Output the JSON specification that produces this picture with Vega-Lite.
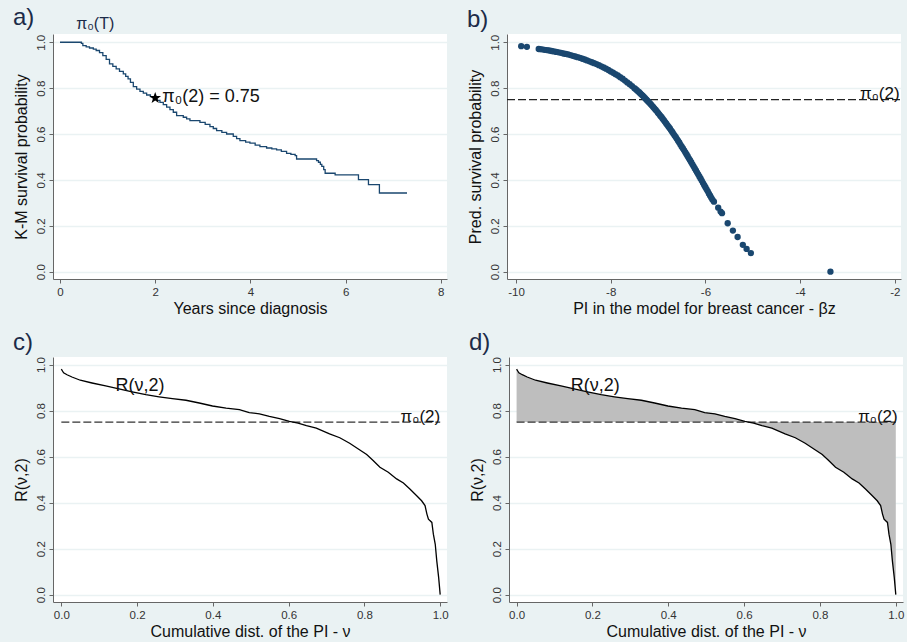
{
  "$schema": "https://vega.github.io/schema/vega-lite/v6.json",
  "background": "#eaf2f3",
  "padding": {"left": 13, "top": 6, "right": 4, "bottom": 2},
  "config": {
    "font": "Liberation Sans",
    "view": {"stroke": null, "fill": "white"},
    "axis": {
      "domainColor": "#666", "domainWidth": 1, "tickColor": "#666", "tickSize": 4,
      "labelColor": "#333", "labelFontSize": 11.5, "labelFont": "Liberation Sans",
      "titleFont": "Liberation Sans", "titleFontSize": 16, "titleFontWeight": "normal", "titleColor": "#111",
      "gridColor": "#eaf2f3", "gridWidth": 1.5
    },
    "axisX": {"grid": false, "labelPadding": 3, "titlePadding": 3},
    "axisY": {"grid": true, "labelAngle": -90, "labelPadding": 3, "titlePadding": 6, "values": [0, 0.2, 0.4, 0.6, 0.8, 1], "format": ".1f"},
    "title": {"anchor": "start", "frame": "bounds", "fontSize": 24, "fontWeight": "normal", "color": "#1c2b48", "font": "Liberation Sans", "offset": 2}
  },
  "spacing": 13,
  "vconcat": [
    {
      "spacing": 20,
      "hconcat": [
        {
          "width": 394, "height": 245,
          "title": {"text": "a)", "offset": -14},
          "layer": [
            {
              "data": {"values": [
                {"x": 0, "y": 1.0}, {"x": 0.45, "y": 0.995}, {"x": 0.48, "y": 0.985}, {"x": 0.55, "y": 0.98}, {"x": 0.62, "y": 0.975},
                {"x": 0.70, "y": 0.97}, {"x": 0.76, "y": 0.964}, {"x": 0.83, "y": 0.955}, {"x": 0.90, "y": 0.942}, {"x": 0.97, "y": 0.925},
                {"x": 1.04, "y": 0.906}, {"x": 1.11, "y": 0.895}, {"x": 1.18, "y": 0.884}, {"x": 1.25, "y": 0.873}, {"x": 1.33, "y": 0.862},
                {"x": 1.38, "y": 0.851}, {"x": 1.43, "y": 0.840}, {"x": 1.48, "y": 0.825}, {"x": 1.54, "y": 0.807}, {"x": 1.61, "y": 0.796},
                {"x": 1.68, "y": 0.786}, {"x": 1.75, "y": 0.778}, {"x": 1.82, "y": 0.770}, {"x": 1.90, "y": 0.763}, {"x": 1.97, "y": 0.756},
                {"x": 2.03, "y": 0.747}, {"x": 2.10, "y": 0.738}, {"x": 2.17, "y": 0.728}, {"x": 2.24, "y": 0.717}, {"x": 2.31, "y": 0.706},
                {"x": 2.38, "y": 0.695}, {"x": 2.45, "y": 0.680}, {"x": 2.59, "y": 0.673}, {"x": 2.66, "y": 0.666}, {"x": 2.73, "y": 0.658},
                {"x": 2.94, "y": 0.651}, {"x": 3.05, "y": 0.642}, {"x": 3.15, "y": 0.632}, {"x": 3.22, "y": 0.624}, {"x": 3.29, "y": 0.615},
                {"x": 3.40, "y": 0.607}, {"x": 3.50, "y": 0.600}, {"x": 3.64, "y": 0.590}, {"x": 3.71, "y": 0.580}, {"x": 3.78, "y": 0.571},
                {"x": 3.90, "y": 0.565}, {"x": 3.99, "y": 0.560}, {"x": 4.10, "y": 0.552}, {"x": 4.20, "y": 0.545}, {"x": 4.34, "y": 0.539},
                {"x": 4.45, "y": 0.535}, {"x": 4.55, "y": 0.531}, {"x": 4.65, "y": 0.524}, {"x": 4.76, "y": 0.516}, {"x": 4.85, "y": 0.511},
                {"x": 4.94, "y": 0.506}, {"x": 4.97, "y": 0.491}, {"x": 5.39, "y": 0.484}, {"x": 5.43, "y": 0.477}, {"x": 5.47, "y": 0.468},
                {"x": 5.50, "y": 0.459}, {"x": 5.54, "y": 0.445}, {"x": 5.57, "y": 0.429}, {"x": 5.78, "y": 0.422}, {"x": 6.27, "y": 0.401},
                {"x": 6.48, "y": 0.379}, {"x": 6.71, "y": 0.343}, {"x": 7.29, "y": 0.343}
              ]},
              "mark": {"type": "line", "interpolate": "step-after", "color": "#1a476f", "strokeWidth": 1.3},
              "encoding": {
                "x": {"field": "x", "type": "quantitative", "scale": {"domain": [-0.147, 8.13], "nice": false, "zero": false},
                      "axis": {"title": "Years since diagnosis", "values": [0, 2, 4, 6, 8], "format": "d"}},
                "y": {"field": "y", "type": "quantitative", "scale": {"domain": [-0.032, 1.036], "nice": false, "zero": false},
                      "axis": {"title": "K-M survival probability"}}
              }
            },
            {
              "data": {"values": [{"x": 2.0, "y": 0.757}]},
              "mark": {"type": "point", "shape": "M0,-1L0.24,-0.33L0.95,-0.31L0.38,0.12L0.59,0.81L0,0.4L-0.59,0.81L-0.38,0.12L-0.95,-0.31L-0.24,-0.33Z", "filled": true, "color": "#000", "size": 150, "opacity": 1},
              "encoding": {"x": {"field": "x", "type": "quantitative"}, "y": {"field": "y", "type": "quantitative"}}
            },
            {
              "data": {"values": [{"x": 2.15, "y": 0.763, "label": "π₀(2) = 0.75"}]},
              "mark": {"type": "text", "align": "left", "baseline": "middle", "fontSize": 18, "color": "#111"},
              "encoding": {"x": {"field": "x", "type": "quantitative"}, "y": {"field": "y", "type": "quantitative"}, "text": {"field": "label"}}
            },
            {
              "data": {"values": [{"x": 0.34, "y": 1.078, "label": "π₀(T)"}]},
              "mark": {"type": "text", "align": "left", "baseline": "middle", "fontSize": 16, "color": "#1c2b48"},
              "encoding": {"x": {"field": "x", "type": "quantitative"}, "y": {"field": "y", "type": "quantitative"}, "text": {"field": "label"}}
            }
          ]
        },
        {
          "width": 394, "height": 245,
          "title": {"text": "b)", "offset": 2},
          "layer": [
            {
              "data": {"values": [{"x": -10.19, "x2": -1.87, "y": 0.75}]},
              "mark": {"type": "rule", "strokeDash": [8, 3], "color": "#222", "strokeWidth": 1.2},
              "encoding": {
                "x": {"field": "x", "type": "quantitative", "scale": {"domain": [-10.19, -1.87], "nice": false, "zero": false},
                      "axis": {"title": "PI in the model for breast cancer - βz", "values": [-10, -8, -6, -4, -2], "labelExpr": "'' + datum.value"}},
                "x2": {"field": "x2"},
                "y": {"field": "y", "type": "quantitative", "scale": {"domain": [-0.032, 1.036], "nice": false, "zero": false},
                      "axis": {"title": "Pred. survival probability"}}
              }
            },
            {
              "data": {"values": [
                {"x": -9.89, "y": 0.983}, {"x": -9.77, "y": 0.980}, {"x": -9.52, "y": 0.971}, {"x": -9.50, "y": 0.970}, {"x": -9.45, "y": 0.969},
                {"x": -9.40, "y": 0.967}, {"x": -9.35, "y": 0.966}, {"x": -9.30, "y": 0.964}, {"x": -9.25, "y": 0.962}, {"x": -9.20, "y": 0.960},
                {"x": -9.15, "y": 0.958}, {"x": -9.10, "y": 0.956}, {"x": -9.05, "y": 0.954}, {"x": -9.00, "y": 0.951}, {"x": -8.95, "y": 0.949},
                {"x": -8.90, "y": 0.947}, {"x": -8.85, "y": 0.944}, {"x": -8.80, "y": 0.941}, {"x": -8.75, "y": 0.938}, {"x": -8.70, "y": 0.935},
                {"x": -8.65, "y": 0.932}, {"x": -8.60, "y": 0.928}, {"x": -8.55, "y": 0.925}, {"x": -8.50, "y": 0.921}, {"x": -8.45, "y": 0.917},
                {"x": -8.40, "y": 0.913}, {"x": -8.35, "y": 0.909}, {"x": -8.30, "y": 0.905}, {"x": -8.25, "y": 0.900}, {"x": -8.20, "y": 0.895},
                {"x": -8.15, "y": 0.890}, {"x": -8.10, "y": 0.885}, {"x": -8.05, "y": 0.879}, {"x": -8.00, "y": 0.873}, {"x": -7.95, "y": 0.867},
                {"x": -7.90, "y": 0.861}, {"x": -7.85, "y": 0.855}, {"x": -7.80, "y": 0.848}, {"x": -7.75, "y": 0.841}, {"x": -7.70, "y": 0.833},
                {"x": -7.65, "y": 0.825}, {"x": -7.60, "y": 0.817}, {"x": -7.55, "y": 0.809}, {"x": -7.50, "y": 0.800}, {"x": -7.45, "y": 0.791},
                {"x": -7.40, "y": 0.782}, {"x": -7.35, "y": 0.772}, {"x": -7.30, "y": 0.762}, {"x": -7.25, "y": 0.751}, {"x": -7.20, "y": 0.740},
                {"x": -7.15, "y": 0.729}, {"x": -7.10, "y": 0.717}, {"x": -7.05, "y": 0.705}, {"x": -7.00, "y": 0.692}, {"x": -6.95, "y": 0.679},
                {"x": -6.90, "y": 0.666}, {"x": -6.85, "y": 0.652}, {"x": -6.80, "y": 0.638}, {"x": -6.75, "y": 0.624}, {"x": -6.70, "y": 0.609},
                {"x": -6.65, "y": 0.593}, {"x": -6.60, "y": 0.578}, {"x": -6.55, "y": 0.562}, {"x": -6.50, "y": 0.545}, {"x": -6.45, "y": 0.529},
                {"x": -6.40, "y": 0.512}, {"x": -6.35, "y": 0.494}, {"x": -6.30, "y": 0.477}, {"x": -6.25, "y": 0.459}, {"x": -6.20, "y": 0.441},
                {"x": -6.15, "y": 0.423}, {"x": -6.10, "y": 0.405}, {"x": -6.05, "y": 0.386}, {"x": -6.00, "y": 0.368}, {"x": -5.95, "y": 0.350},
                {"x": -5.90, "y": 0.331}, {"x": -5.85, "y": 0.313}, {"x": -5.82, "y": 0.305},
                {"x": -7.475, "y": 0.796}, {"x": -7.425, "y": 0.786}, {"x": -7.375, "y": 0.777}, {"x": -7.325, "y": 0.767}, {"x": -7.275, "y": 0.756},
                {"x": -7.225, "y": 0.745}, {"x": -7.175, "y": 0.734}, {"x": -7.125, "y": 0.723}, {"x": -7.075, "y": 0.711}, {"x": -7.025, "y": 0.699},
                {"x": -6.975, "y": 0.686}, {"x": -6.925, "y": 0.673}, {"x": -6.875, "y": 0.659}, {"x": -6.825, "y": 0.645}, {"x": -6.775, "y": 0.631},
                {"x": -6.725, "y": 0.616}, {"x": -6.675, "y": 0.601}, {"x": -6.625, "y": 0.586}, {"x": -6.575, "y": 0.570}, {"x": -6.525, "y": 0.553},
                {"x": -6.475, "y": 0.537}, {"x": -6.425, "y": 0.520}, {"x": -6.375, "y": 0.503}, {"x": -6.325, "y": 0.486}, {"x": -6.275, "y": 0.468},
                {"x": -6.225, "y": 0.450}, {"x": -6.175, "y": 0.432}, {"x": -6.125, "y": 0.414}, {"x": -6.075, "y": 0.396}, {"x": -6.025, "y": 0.377},
                {"x": -5.975, "y": 0.359}, {"x": -5.925, "y": 0.340}, {"x": -5.875, "y": 0.322},
                {"x": -5.73, "y": 0.279}, {"x": -5.68, "y": 0.262},
                {"x": -5.65, "y": 0.255}, {"x": -5.53, "y": 0.211}, {"x": -5.42, "y": 0.179}, {"x": -5.32, "y": 0.151}, {"x": -5.21, "y": 0.117},
                {"x": -5.13, "y": 0.099}, {"x": -5.04, "y": 0.081}, {"x": -3.36, "y": 0.0}
              ]},
              "mark": {"type": "circle", "color": "#1a476f", "size": 40, "opacity": 1},
              "encoding": {"x": {"field": "x", "type": "quantitative"}, "y": {"field": "y", "type": "quantitative"}}
            },
            {
              "data": {"values": [{"x": -1.9, "y": 0.752, "label": "π₀(2)"}]},
              "mark": {"type": "text", "align": "right", "baseline": "alphabetic", "fontSize": 17, "color": "#111"},
              "encoding": {"x": {"field": "x", "type": "quantitative"}, "y": {"field": "y", "type": "quantitative"}, "text": {"field": "label"}}
            }
          ]
        }
      ]
    },
    {
      "spacing": 20,
      "hconcat": [
        {
          "width": 394, "height": 245,
          "title": {"text": "c)", "offset": 2},
          "layer": [
            {
              "data": {"values": [{"x": 0, "x2": 1, "y": 0.75}]},
              "mark": {"type": "rule", "strokeDash": [8, 3], "color": "#333", "strokeWidth": 1.2},
              "encoding": {
                "x": {"field": "x", "type": "quantitative", "scale": {"domain": [-0.022, 1.018], "nice": false, "zero": false},
                      "axis": {"title": "Cumulative dist. of the PI - ν", "values": [0, 0.2, 0.4, 0.6, 0.8, 1], "format": ".1f"}},
                "x2": {"field": "x2"},
                "y": {"field": "y", "type": "quantitative", "scale": {"domain": [-0.032, 1.033], "nice": false, "zero": false},
                      "axis": {"title": "R(ν,2)"}}
              }
            },
            {
              "data": {"name": "rcurve"},
              "mark": {"type": "line", "color": "#000", "strokeWidth": 1.3},
              "encoding": {"x": {"field": "x", "type": "quantitative"}, "y": {"field": "y", "type": "quantitative"}}
            },
            {
              "data": {"values": [{"x": 0.143, "y": 0.885, "label": "R(ν,2)"}]},
              "mark": {"type": "text", "align": "left", "baseline": "alphabetic", "fontSize": 18, "color": "#111"},
              "encoding": {"x": {"field": "x", "type": "quantitative"}, "y": {"field": "y", "type": "quantitative"}, "text": {"field": "label"}}
            },
            {
              "data": {"values": [{"x": 1.0, "y": 0.752, "label": "π₀(2)"}]},
              "mark": {"type": "text", "align": "right", "baseline": "alphabetic", "fontSize": 17, "color": "#111"},
              "encoding": {"x": {"field": "x", "type": "quantitative"}, "y": {"field": "y", "type": "quantitative"}, "text": {"field": "label"}}
            }
          ]
        },
        {
          "width": 394, "height": 245,
          "title": {"text": "d)", "offset": 2},
          "layer": [
            {
              "data": {"name": "rcurve"},
              "mark": {"type": "area", "color": "#bebebe", "opacity": 1},
              "encoding": {
                "x": {"field": "x", "type": "quantitative", "scale": {"domain": [-0.02, 1.019], "nice": false, "zero": false},
                      "axis": {"title": "Cumulative dist. of the PI - ν", "values": [0, 0.2, 0.4, 0.6, 0.8, 1], "format": ".1f"}},
                "y": {"field": "y", "type": "quantitative", "scale": {"domain": [-0.032, 1.033], "nice": false, "zero": false},
                      "axis": {"title": "R(ν,2)"}},
                "y2": {"datum": 0.75}
              }
            },
            {
              "data": {"values": [{"x": 0, "x2": 1, "y": 0.75}]},
              "mark": {"type": "rule", "strokeDash": [8, 3], "color": "#333", "strokeWidth": 1.2},
              "encoding": {"x": {"field": "x", "type": "quantitative"}, "x2": {"field": "x2"}, "y": {"field": "y", "type": "quantitative"}}
            },
            {
              "data": {"name": "rcurve"},
              "mark": {"type": "line", "color": "#000", "strokeWidth": 1.3},
              "encoding": {"x": {"field": "x", "type": "quantitative"}, "y": {"field": "y", "type": "quantitative"}}
            },
            {
              "data": {"values": [{"x": 0.143, "y": 0.885, "label": "R(ν,2)"}]},
              "mark": {"type": "text", "align": "left", "baseline": "alphabetic", "fontSize": 18, "color": "#111"},
              "encoding": {"x": {"field": "x", "type": "quantitative"}, "y": {"field": "y", "type": "quantitative"}, "text": {"field": "label"}}
            },
            {
              "data": {"values": [{"x": 1.005, "y": 0.752, "label": "π₀(2)"}]},
              "mark": {"type": "text", "align": "right", "baseline": "alphabetic", "fontSize": 17, "color": "#111"},
              "encoding": {"x": {"field": "x", "type": "quantitative"}, "y": {"field": "y", "type": "quantitative"}, "text": {"field": "label"}}
            }
          ]
        }
      ]
    }
  ],
  "datasets": {
    "rcurve": [
      {"x": 0.000, "y": 0.980}, {"x": 0.003, "y": 0.972}, {"x": 0.006, "y": 0.964}, {"x": 0.015, "y": 0.956}, {"x": 0.028, "y": 0.946},
      {"x": 0.050, "y": 0.932}, {"x": 0.081, "y": 0.920}, {"x": 0.117, "y": 0.907}, {"x": 0.152, "y": 0.894}, {"x": 0.187, "y": 0.881},
      {"x": 0.223, "y": 0.869}, {"x": 0.258, "y": 0.860}, {"x": 0.293, "y": 0.852}, {"x": 0.329, "y": 0.845}, {"x": 0.364, "y": 0.833},
      {"x": 0.399, "y": 0.820}, {"x": 0.435, "y": 0.811}, {"x": 0.470, "y": 0.804}, {"x": 0.496, "y": 0.791}, {"x": 0.523, "y": 0.786},
      {"x": 0.549, "y": 0.775}, {"x": 0.576, "y": 0.765}, {"x": 0.602, "y": 0.753}, {"x": 0.625, "y": 0.746}, {"x": 0.647, "y": 0.735},
      {"x": 0.673, "y": 0.724}, {"x": 0.708, "y": 0.699}, {"x": 0.735, "y": 0.682}, {"x": 0.761, "y": 0.658}, {"x": 0.788, "y": 0.629},
      {"x": 0.806, "y": 0.609}, {"x": 0.823, "y": 0.583}, {"x": 0.841, "y": 0.554}, {"x": 0.863, "y": 0.532}, {"x": 0.885, "y": 0.503},
      {"x": 0.903, "y": 0.485}, {"x": 0.920, "y": 0.459}, {"x": 0.938, "y": 0.430}, {"x": 0.951, "y": 0.408}, {"x": 0.960, "y": 0.387},
      {"x": 0.965, "y": 0.350}, {"x": 0.969, "y": 0.328}, {"x": 0.978, "y": 0.314}, {"x": 0.982, "y": 0.263}, {"x": 0.987, "y": 0.219},
      {"x": 0.991, "y": 0.147}, {"x": 0.996, "y": 0.074}, {"x": 1.000, "y": 0.000}
    ]
  }
}
